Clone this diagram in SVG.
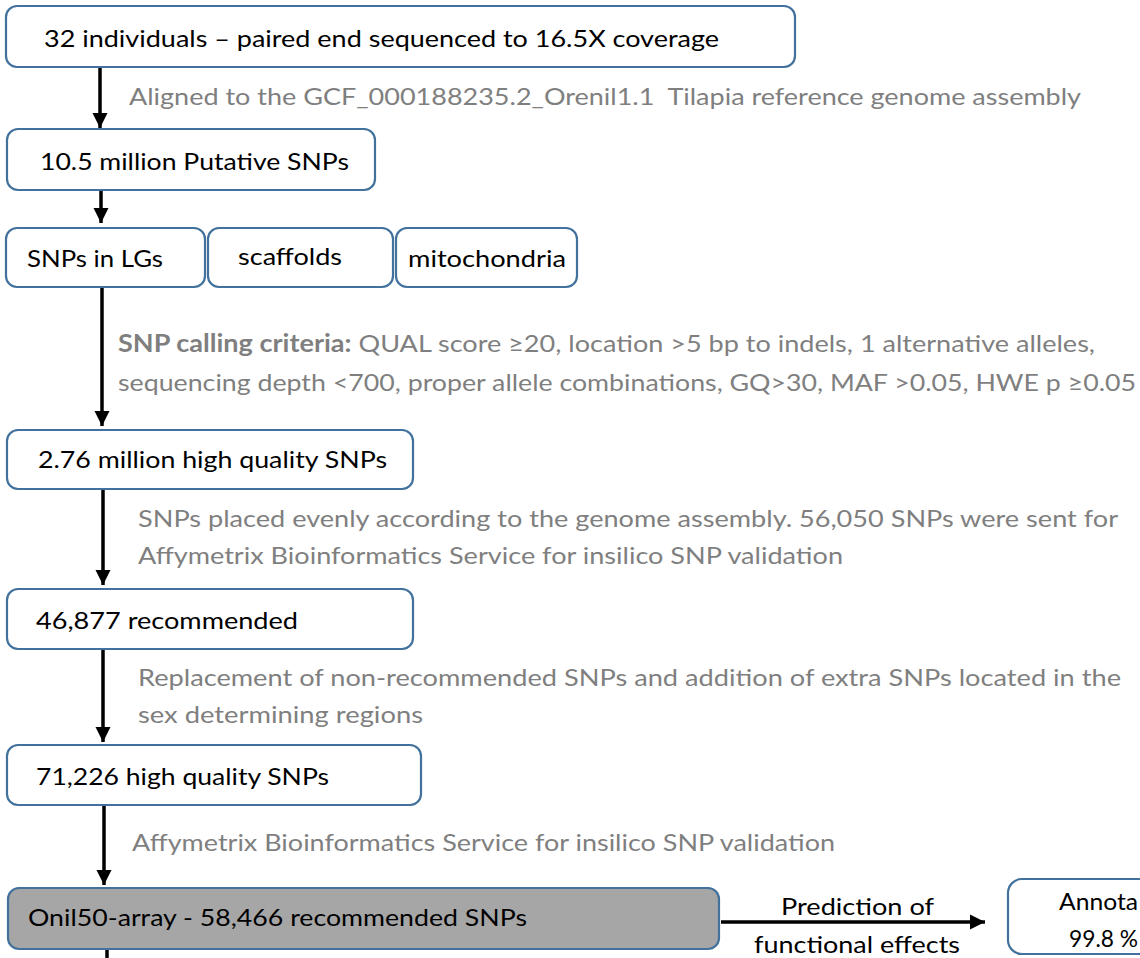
<svg xmlns="http://www.w3.org/2000/svg" width="1140" height="958" viewBox="0 0 1140 958">
<defs>
<style>
.box{fill:#ffffff;stroke:#41719C;stroke-width:2.2}
.dark{fill:#A6A6A6;stroke:#41719C;stroke-width:2.2}
.t{font-family:Lato,"Liberation Sans",sans-serif;font-size:24px;fill:#000000}
.g{font-family:Lato,"Liberation Sans",sans-serif;font-size:24px;fill:#7F7F7F}
.b{font-weight:bold}
.c{stroke:#000000;stroke-width:3.5;fill:none}
</style>
<marker id="ah" viewBox="0 0 10 10" refX="10" refY="5" markerWidth="4.4" markerHeight="4.4" markerUnits="strokeWidth" orient="auto">
<path d="M0,0 L10,5 L0,10 Z" fill="#000000"/>
</marker>
</defs>
<rect width="1140" height="958" fill="#ffffff"/>
<g id="connectors">
<line class="c" x1="100" y1="68" x2="100" y2="128" marker-end="url(#ah)"/>
<line class="c" x1="101" y1="190" x2="101" y2="223" marker-end="url(#ah)"/>
<line class="c" x1="102" y1="288" x2="102" y2="426" marker-end="url(#ah)"/>
<line class="c" x1="103" y1="490" x2="103" y2="585" marker-end="url(#ah)"/>
<line class="c" x1="103" y1="650" x2="103" y2="742" marker-end="url(#ah)"/>
<line class="c" x1="104" y1="806" x2="104" y2="885" marker-end="url(#ah)"/>
<line class="c" x1="107" y1="950" x2="107" y2="960"/>
<line class="c" x1="721" y1="922" x2="985" y2="922" marker-end="url(#ah)"/>
</g>
<g id="labels">
<text class="g" x="129" y="105" textLength="952" lengthAdjust="spacingAndGlyphs">Aligned to the GCF_000188235.2_Orenil1.1&#160; Tilapia reference genome assembly</text>
<text class="g" x="118" y="352" textLength="977" lengthAdjust="spacingAndGlyphs"><tspan class="b">SNP calling criteria:</tspan> QUAL score ≥20, location &gt;5 bp to indels, 1 alternative alleles,</text>
<text class="g" x="118" y="391" textLength="1018" lengthAdjust="spacingAndGlyphs">sequencing depth &lt;700, proper allele combinations, GQ&gt;30, MAF &gt;0.05, HWE p ≥0.05</text>
<text class="g" x="138" y="527" textLength="980" lengthAdjust="spacingAndGlyphs">SNPs placed evenly according to the genome assembly. 56,050 SNPs were sent for</text>
<text class="g" x="138" y="564" textLength="705" lengthAdjust="spacingAndGlyphs">Affymetrix Bioinformatics Service for insilico SNP validation</text>
<text class="g" x="138" y="686" textLength="983" lengthAdjust="spacingAndGlyphs">Replacement of non-recommended SNPs and addition of extra SNPs located in the</text>
<text class="g" x="138" y="723" textLength="285" lengthAdjust="spacingAndGlyphs">sex determining regions</text>
<text class="g" x="132" y="851" textLength="703" lengthAdjust="spacingAndGlyphs">Affymetrix Bioinformatics Service for insilico SNP validation</text>
<text class="t" x="781" y="915" textLength="153" lengthAdjust="spacingAndGlyphs">Prediction of</text>
<text class="t" x="754" y="953" textLength="206" lengthAdjust="spacingAndGlyphs">functional effects</text>
</g>
<g id="n1">
<rect class="box" x="6" y="6" width="789" height="61" rx="11"/>
<text class="t" x="44" y="47" textLength="675" lengthAdjust="spacingAndGlyphs">32 individuals – paired end sequenced to 16.5X coverage</text>
</g>
<g id="n2">
<rect class="box" x="7" y="129" width="368" height="61" rx="11"/>
<text class="t" x="40" y="170" textLength="309" lengthAdjust="spacingAndGlyphs">10.5 million Putative SNPs</text>
</g>
<g id="n3a">
<rect class="box" x="6" y="228" width="199" height="59" rx="11"/>
<text class="t" x="27" y="267" textLength="136" lengthAdjust="spacingAndGlyphs">SNPs in LGs</text>
</g>
<g id="n3b">
<rect class="box" x="208" y="228" width="185" height="59" rx="11"/>
<text class="t" x="238" y="265" textLength="104" lengthAdjust="spacingAndGlyphs">scaffolds</text>
</g>
<g id="n3c">
<rect class="box" x="396" y="228" width="181" height="59" rx="11"/>
<text class="t" x="408" y="267" textLength="158" lengthAdjust="spacingAndGlyphs">mitochondria</text>
</g>
<g id="n4">
<rect class="box" x="7" y="430" width="406" height="59" rx="11"/>
<text class="t" x="38" y="468" textLength="349" lengthAdjust="spacingAndGlyphs">2.76 million high quality SNPs</text>
</g>
<g id="n5">
<rect class="box" x="7" y="589" width="406" height="60" rx="11"/>
<text class="t" x="36" y="629" textLength="262" lengthAdjust="spacingAndGlyphs">46,877 recommended</text>
</g>
<g id="n6">
<rect class="box" x="7" y="745" width="414" height="60" rx="11"/>
<text class="t" x="36" y="785" textLength="293" lengthAdjust="spacingAndGlyphs">71,226 high quality SNPs</text>
</g>
<g id="n7">
<rect class="dark" x="8" y="888" width="711" height="61" rx="11"/>
<text class="t" x="28" y="926" textLength="499" lengthAdjust="spacingAndGlyphs">Onil50-array - 58,466 recommended SNPs</text>
</g>
<g id="n8">
<rect class="box" x="1008" y="879" width="160" height="75" rx="14"/>
<text class="t" x="1059" y="910" textLength="79" lengthAdjust="spacingAndGlyphs">Annota</text>
<text class="t" x="1069" y="947" textLength="69" lengthAdjust="spacingAndGlyphs">99.8 %</text>
</g>
</svg>
